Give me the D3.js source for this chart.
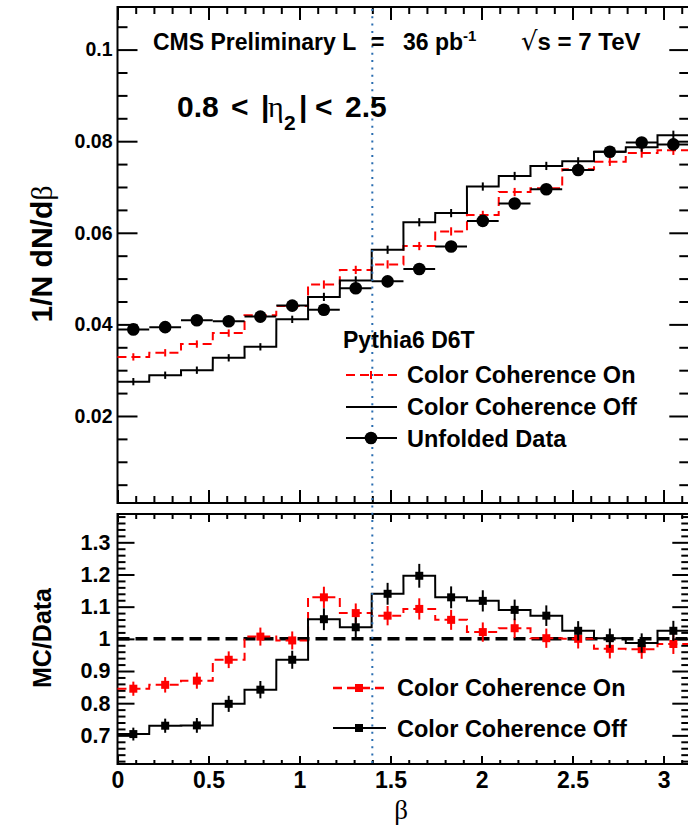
<!DOCTYPE html>
<html><head><meta charset="utf-8">
<script src="https://cdn.jsdelivr.net/npm/d3@7"></script>
<style>body{margin:0;background:#fff}svg{display:block}</style>
</head><body><svg id="c" width="688" height="828"></svg>
<script>
// ---- data ----
const binCenters = [0.087,0.262,0.436,0.611,0.785,0.960,1.134,1.309,1.484,1.658,1.833,2.007,2.182,2.356,2.531,2.705,2.880,3.054];
const binWidth = 0.1745;
const unfoldedData = [0.0389,0.0394,0.0409,0.0407,0.0417,0.0441,0.0432,0.0479,0.0494,0.0521,0.0570,0.0626,0.0664,0.0695,0.0737,0.0777,0.0797,0.0793];
const ccOn  = [0.0329,0.0338,0.0357,0.0381,0.0420,0.0440,0.0487,0.0519,0.0531,0.0571,0.0603,0.0639,0.0689,0.0697,0.0739,0.0755,0.0774,0.0780];
const ccOff = [0.0275,0.0289,0.0300,0.0327,0.0351,0.0411,0.0460,0.0496,0.0563,0.0623,0.0643,0.0701,0.0724,0.0746,0.0756,0.0777,0.0787,0.0813];
const mcErr = [0.0008,0.0008,0.0008,0.0008,0.0008,0.0008,0.0009,0.0009,0.0009,0.0009,0.0009,0.0009,0.0009,0.0009,0.0009,0.0009,0.0010,0.0010];
const ratioOn  = [0.845,0.857,0.870,0.935,1.007,0.995,1.129,1.080,1.072,1.093,1.059,1.021,1.033,1.002,1.000,0.969,0.968,0.984];
const ratioOff = [0.704,0.730,0.731,0.798,0.842,0.935,1.061,1.036,1.140,1.196,1.129,1.118,1.090,1.072,1.025,1.002,0.987,1.025];
const ratioErrOn  = [0.022,0.024,0.025,0.026,0.028,0.028,0.033,0.030,0.030,0.033,0.031,0.030,0.030,0.030,0.030,0.030,0.030,0.031];
const ratioErrOff = [0.020,0.022,0.023,0.025,0.027,0.028,0.034,0.031,0.034,0.037,0.034,0.033,0.032,0.032,0.030,0.030,0.030,0.031];
const topTicks = [0.02,0.04,0.06,0.08,0.1];
const topTickLabels = ["0.02","0.04","0.06","0.08","0.1"];
const botTicks = [0.7,0.8,0.9,1.0,1.1,1.2,1.3];
const botTickLabels = ["0.7","0.8","0.9","1","1.1","1.2","1.3"];
const xTicks = [0,0.5,1,1.5,2,2.5,3];
const xTickLabels = ["0","0.5","1","1.5","2","2.5","3"];
const cutValue = 1.4;

const svg = d3.select("#c");
const FONT = "'Liberation Sans', Arial, Helvetica, sans-serif";
const SERIF = "'Liberation Serif', serif";
const L = 117.5, R = 689.3;
const T1 = 7, B1 = 503, T2 = 514, B2 = 764;

const x = d3.scaleLinear().domain([0, Math.PI]).range([L, R]);
const yTop = d3.scaleLinear().domain([0.001, 0.1093]).range([B1, T1]);
const yBot = d3.scaleLinear().domain([0.611, 1.388]).range([B2, T2]);

function range(a, b, s){ const r=[]; for(let v=a; v<=b+1e-9; v+=s) r.push(+v.toFixed(4)); return r; }
const xMinor = range(0, 3.1, 0.1).filter(v => !xTicks.some(t => Math.abs(t-v)<1e-6));
const topMinor = range(0.005, 0.105, 0.005).filter(v => !topTicks.some(t => Math.abs(t-v)<1e-6));
const botMinor = range(0.62, 1.38, 0.02).filter(v => !botTicks.some(t => Math.abs(t-v)<1e-6));

function styleAxis(g, fs){
  g.select(".domain").remove();
  g.selectAll("line").attr("stroke","#000").attr("stroke-width",2);
  g.selectAll("text").attr("font-family",FONT).attr("font-weight","bold").attr("font-size",fs).attr("fill","#000");
}

// ---- axes: top panel ----
svg.append("g").attr("transform",`translate(${L},0)`)
  .call(d3.axisLeft(yTop).tickValues(topTicks).tickFormat((d,i)=>topTickLabels[i]).tickSize(-20).tickPadding(5))
  .call(g=>styleAxis(g,19.5));
svg.append("g").attr("transform",`translate(${L},0)`)
  .call(d3.axisLeft(yTop).tickValues(topMinor).tickFormat("").tickSize(-10)).call(g=>styleAxis(g,0));
svg.append("g").attr("transform",`translate(${R},0)`)
  .call(d3.axisRight(yTop).tickValues(topTicks).tickFormat("").tickSize(-20)).call(g=>styleAxis(g,0));
svg.append("g").attr("transform",`translate(${R},0)`)
  .call(d3.axisRight(yTop).tickValues(topMinor).tickFormat("").tickSize(-10)).call(g=>styleAxis(g,0));
[[T1,d3.axisTop],[B1,d3.axisBottom]].forEach(([yy,ax])=>{
  svg.append("g").attr("transform",`translate(0,${yy})`)
    .call(ax(x).tickValues(xTicks).tickFormat("").tickSize(-13)).call(g=>styleAxis(g,0));
  svg.append("g").attr("transform",`translate(0,${yy})`)
    .call(ax(x).tickValues(xMinor).tickFormat("").tickSize(-7)).call(g=>styleAxis(g,0));
});

// ---- axes: bottom panel ----
svg.append("g").attr("transform",`translate(${L},0)`)
  .call(d3.axisLeft(yBot).tickValues(botTicks).tickFormat((d,i)=>botTickLabels[i]).tickSize(-17).tickPadding(7))
  .call(g=>styleAxis(g,21.5));
svg.append("g").attr("transform",`translate(${L},0)`)
  .call(d3.axisLeft(yBot).tickValues(botMinor).tickFormat("").tickSize(-8)).call(g=>styleAxis(g,0));
svg.append("g").attr("transform",`translate(${R},0)`)
  .call(d3.axisRight(yBot).tickValues(botTicks).tickFormat("").tickSize(-17)).call(g=>styleAxis(g,0));
svg.append("g").attr("transform",`translate(${R},0)`)
  .call(d3.axisRight(yBot).tickValues(botMinor).tickFormat("").tickSize(-8)).call(g=>styleAxis(g,0));
svg.append("g").attr("transform",`translate(0,${T2})`)
  .call(d3.axisTop(x).tickValues(xTicks).tickFormat("").tickSize(-8)).call(g=>styleAxis(g,0));
svg.append("g").attr("transform",`translate(0,${T2})`)
  .call(d3.axisTop(x).tickValues(xMinor).tickFormat("").tickSize(-5)).call(g=>styleAxis(g,0));
svg.append("g").attr("transform",`translate(0,${B2})`)
  .call(d3.axisBottom(x).tickValues(xTicks).tickFormat((d,i)=>xTickLabels[i]).tickSize(-8).tickPadding(8))
  .call(g=>styleAxis(g,23));
svg.append("g").attr("transform",`translate(0,${B2})`)
  .call(d3.axisBottom(x).tickValues(xMinor).tickFormat("").tickSize(-4)).call(g=>styleAxis(g,0));

// frames
svg.append("rect").attr("x",L).attr("y",T1).attr("width",R-L).attr("height",B1-T1).attr("fill","none").attr("stroke","#000").attr("stroke-width",2);
svg.append("rect").attr("x",L).attr("y",T2).attr("width",R-L).attr("height",B2-T2).attr("fill","none").attr("stroke","#000").attr("stroke-width",2);

// ---- helpers ----
function stepPoints(vals){
  const pts=[];
  vals.forEach((v,i)=>{ pts.push([binCenters[i]-binWidth/2, v]); pts.push([binCenters[i]+binWidth/2, v]); });
  return pts;
}
function drawStep(yS, vals, color, dash, w){
  const line = d3.line().x(d=>x(d[0])).y(d=>yS(d[1]));
  svg.append("path").attr("d",line(stepPoints(vals))).attr("fill","none")
    .attr("stroke",color).attr("stroke-width",w).attr("stroke-dasharray",dash||null);
}

// ---- top panel ----
drawStep(yTop, ccOn, "#ff0000", "9,5", 2);
drawStep(yTop, ccOff, "#000", null, 2);
[[ccOn,"#ff0000"],[ccOff,"#000"]].forEach(([vals,col])=>{
  svg.append("g").selectAll("line").data(vals).join("line")
    .attr("x1",(d,i)=>x(binCenters[i])).attr("x2",(d,i)=>x(binCenters[i]))
    .attr("y1",(d,i)=>yTop(d+mcErr[i])).attr("y2",(d,i)=>yTop(d-mcErr[i]))
    .attr("stroke",col).attr("stroke-width",2);
});
const gd = svg.append("g");
gd.selectAll("line").data(unfoldedData).join("line")
  .attr("x1",(d,i)=>x(binCenters[i]-binWidth/2)).attr("x2",(d,i)=>x(binCenters[i]+binWidth/2))
  .attr("y1",d=>yTop(d)).attr("y2",d=>yTop(d)).attr("stroke","#000").attr("stroke-width",2);
gd.selectAll("circle").data(unfoldedData).join("circle")
  .attr("cx",(d,i)=>x(binCenters[i])).attr("cy",d=>yTop(d)).attr("r",6.3).attr("fill","#000");

// ---- bottom panel ----
svg.append("line").attr("x1",L).attr("x2",R).attr("y1",yBot(1)).attr("y2",yBot(1))
  .attr("stroke","#000").attr("stroke-width",3.5).attr("stroke-dasharray","12,6");
drawStep(yBot, ratioOn, "#ff0000", "9,5", 2);
drawStep(yBot, ratioOff, "#000", null, 2);
[[ratioOn,ratioErrOn,"#ff0000"],[ratioOff,ratioErrOff,"#000"]].forEach(([vals,errs,col])=>{
  const g = svg.append("g");
  g.selectAll("line").data(vals).join("line")
    .attr("x1",(d,i)=>x(binCenters[i])).attr("x2",(d,i)=>x(binCenters[i]))
    .attr("y1",(d,i)=>yBot(d+errs[i])).attr("y2",(d,i)=>yBot(d-errs[i]))
    .attr("stroke",col).attr("stroke-width",2);
  g.selectAll("rect").data(vals).join("rect")
    .attr("x",(d,i)=>x(binCenters[i])-4).attr("y",d=>yBot(d)-4).attr("width",8).attr("height",8).attr("fill",col);
});

// cut line
svg.append("line").attr("x1",x(cutValue)).attr("x2",x(cutValue)).attr("y1",T1+2).attr("y2",B2)
  .attr("stroke","#2a6db0").attr("stroke-width",2).attr("stroke-dasharray","2,5.3");

// ---- texts ----
function txt(xx, yy, s, fs, opts={}){
  return svg.append("text").attr("x",xx).attr("y",yy).attr("font-family",opts.family||FONT)
    .attr("font-weight",opts.weight||"bold").attr("font-size",fs).attr("fill","#000")
    .attr("text-anchor",opts.anchor||"start").text(s);
}
txt(153, 50, "CMS Preliminary L", 23);
txt(371, 50, "=", 23);
const lum = txt(403, 50, "36 pb", 23);
lum.append("tspan").attr("dy",-9).attr("font-size",15).text("-1");
const rs = txt(521, 50, "", 24);
rs.append("tspan").attr("font-size",26).attr("font-weight","normal").attr("font-family","'DejaVu Sans', sans-serif").text("√");
rs.append("tspan").text("s = 7 TeV");

const eta = svg.append("text").attr("y",117).attr("font-family",FONT).attr("font-weight","bold").attr("font-size",30);
eta.append("tspan").attr("x",177).text("0.8");
eta.append("tspan").attr("x",231).text("<");
eta.append("tspan").attr("x",261).text("|");
eta.append("tspan").attr("x",268).attr("font-family",SERIF).attr("font-weight","normal").text("η");
eta.append("tspan").attr("x",284).attr("dy",13).attr("font-size",21).text("2");
eta.append("tspan").attr("x",299).attr("dy",-13).text("|");
eta.append("tspan").attr("x",315).text("<");
eta.append("tspan").attr("x",345).text("2.5");

// top legend
txt(343, 348, "Pythia6 D6T", 23);
txt(407, 383, "Color Coherence On", 23.5);
txt(407, 415, "Color Coherence Off", 23.5);
txt(407, 447, "Unfolded Data", 23.5);
svg.append("line").attr("x1",346).attr("x2",397).attr("y1",375).attr("y2",375).attr("stroke","#ff0000").attr("stroke-width",2).attr("stroke-dasharray","9,5");
svg.append("line").attr("x1",371).attr("x2",371).attr("y1",371).attr("y2",379).attr("stroke","#ff0000").attr("stroke-width",2);
svg.append("line").attr("x1",346).attr("x2",397).attr("y1",407).attr("y2",407).attr("stroke","#000").attr("stroke-width",2);
svg.append("line").attr("x1",346).attr("x2",397).attr("y1",438).attr("y2",438).attr("stroke","#000").attr("stroke-width",2);
svg.append("circle").attr("cx",371).attr("cy",438).attr("r",6.3).attr("fill","#000");

// bottom legend
txt(397, 696, "Color Coherence On", 23.5);
txt(397, 737, "Color Coherence Off", 23.5);
svg.append("line").attr("x1",333).attr("x2",386).attr("y1",688).attr("y2",688).attr("stroke","#ff0000").attr("stroke-width",2.5).attr("stroke-dasharray","9,5");
svg.append("rect").attr("x",355).attr("y",684).attr("width",8).attr("height",8).attr("fill","#ff0000");
svg.append("line").attr("x1",333).attr("x2",386).attr("y1",728).attr("y2",728).attr("stroke","#000").attr("stroke-width",2);
svg.append("rect").attr("x",355).attr("y",724).attr("width",8).attr("height",8).attr("fill","#000");

// axis titles
const yt = svg.append("text").attr("transform","translate(52,254) rotate(-90)").attr("text-anchor","middle")
  .attr("font-family",FONT).attr("font-weight","bold").attr("font-size",30);
yt.append("tspan").text("1/N dN/d");
yt.append("tspan").attr("font-family",SERIF).attr("font-weight","normal").text("β");
svg.append("text").attr("transform","translate(51,638) rotate(-90)").attr("text-anchor","middle")
  .attr("font-family",FONT).attr("font-weight","bold").attr("font-size",25).text("MC/Data");
txt(401, 819, "β", 27, {family:SERIF, weight:"normal", anchor:"middle"});
</script></body></html>
